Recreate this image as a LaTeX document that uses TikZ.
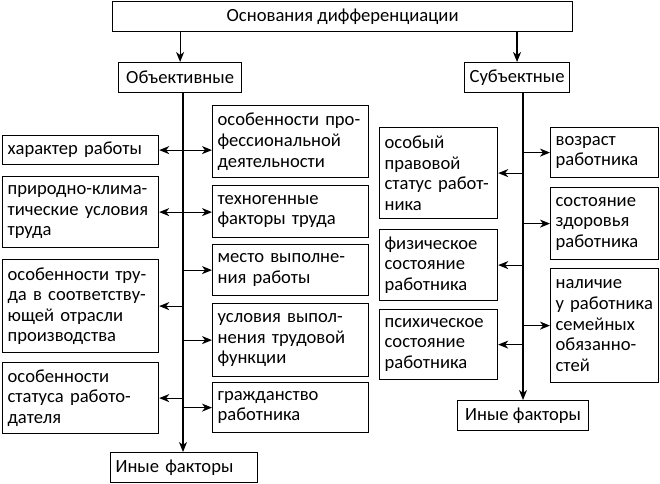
\documentclass[tikz,border=0pt]{standalone}
\usepackage{fontspec}
\setmainfont{Carlito}
\usetikzlibrary{arrows.meta}
\tikzset{
  box/.style={draw, line width=1.2pt, anchor=north west, align=left,
    inner xsep=5pt, inner ysep=2pt, font=\fontsize{18.6}{20.6}\selectfont},
  link/.style={line width=1.2pt, -{Stealth[length=10pt,width=8pt,inset=3pt]}},
  twolink/.style={line width=1.2pt,
    {Stealth[length=10pt,width=8pt,inset=3pt]}-{Stealth[length=10pt,width=8pt,inset=3pt]}}
}
\begin{document}
\begin{tikzpicture}[x=1pt,y=-1pt]
  \useasboundingbox (0,0) rectangle (660,483);
  \node[box, minimum width=460pt, minimum height=30pt] (base) at (112,1) {Основания дифференциации};
  \node[box, minimum width=123pt, minimum height=30pt] (obj) at (118,62) {Объективные};
  \node[box, minimum width=104pt, minimum height=30pt] (subj) at (464,62) {Субъектные};
  \node[box, text width=146pt, minimum height=29pt] (char) at (2,135) {характер работы};
  \node[box, text width=146pt, minimum height=71pt] (nat) at (2,176) {природно-клима-\\тические условия\\труда};
  \node[box, text width=146pt, minimum height=93pt] (ind) at (2,259) {особенности тру-\\да в соответству-\\ющей отрасли\\производства};
  \node[box, text width=146pt, minimum height=71pt] (emp) at (2,362) {особенности\\статуса работо-\\дателя};
  \node[box, text width=146pt, minimum height=72pt] (prof) at (212,105) {особенности про-\\фессиональной\\деятельности};
  \node[box, text width=146pt, minimum height=52pt] (tech) at (212,185) {техногенные\\факторы труда};
  \node[box, text width=146pt, minimum height=51pt] (place) at (212,244) {место выполне-\\ния работы};
  \node[box, text width=146pt, minimum height=73pt] (cond) at (212,303) {условия выпол-\\нения трудовой\\функции};
  \node[box, text width=146pt, minimum height=50pt] (cit) at (212,382) {гражданство\\работника};
  \node[box, text width=108pt, minimum height=91pt] (legal) at (379,127) {особый\\правовой\\статус работ-\\ника};
  \node[box, text width=108pt, minimum height=71pt] (phys) at (379,229) {физическое\\состояние\\работника};
  \node[box, text width=108pt, minimum height=70pt] (psy) at (379,309) {психическое\\состояние\\работника};
  \node[box, text width=98pt, minimum height=50pt] (age) at (550,127) {возраст\\работника};
  \node[box, text width=98pt, minimum height=72pt] (health) at (550,187) {состояние\\здоровья\\работника};
  \node[box, text width=98pt, minimum height=114pt] (family) at (550,268) {наличие\\у~работника\\семейных\\обязанно-\\стей};
  \node[box, text width=137pt, minimum height=30pt] (otherl) at (110,452) {Иные факторы};
  \node[box, minimum width=131pt, minimum height=30pt] (otherr) at (457,400) {Иные факторы};
  \coordinate (lt) at (183,92);
  \coordinate (rt) at (523,92);
  \draw[link] (base.south -| obj.north) -- (obj.north);
  \draw[link] (base.south -| subj.north) -- (subj.north);
  \draw[link] (lt) -- (lt |- otherl.north);
  \draw[link] (rt) -- (rt |- otherr.north);
  \draw[twolink] (char.east) -- (char.east -| prof.west);
  \draw[twolink] (nat.east) -- (nat.east -| tech.west);
  \draw[link] (lt |- place.west) -- (place.west);
  \draw[link] (lt |- ind.east) -- (ind.east);
  \draw[link] (lt |- cond.west) -- (cond.west);
  \draw[link] (lt |- emp.east) -- (emp.east);
  \draw[link] (lt |- cit.west) -- (cit.west);
  \draw[link] (rt |- age.west) -- (age.west);
  \draw[link] (rt |- legal.east) -- (legal.east);
  \draw[link] (rt |- health.west) -- (health.west);
  \draw[link] (rt |- phys.east) -- (phys.east);
  \draw[link] (rt |- family.west) -- (family.west);
  \draw[link] (rt |- psy.east) -- (psy.east);
\end{tikzpicture}
\end{document}
